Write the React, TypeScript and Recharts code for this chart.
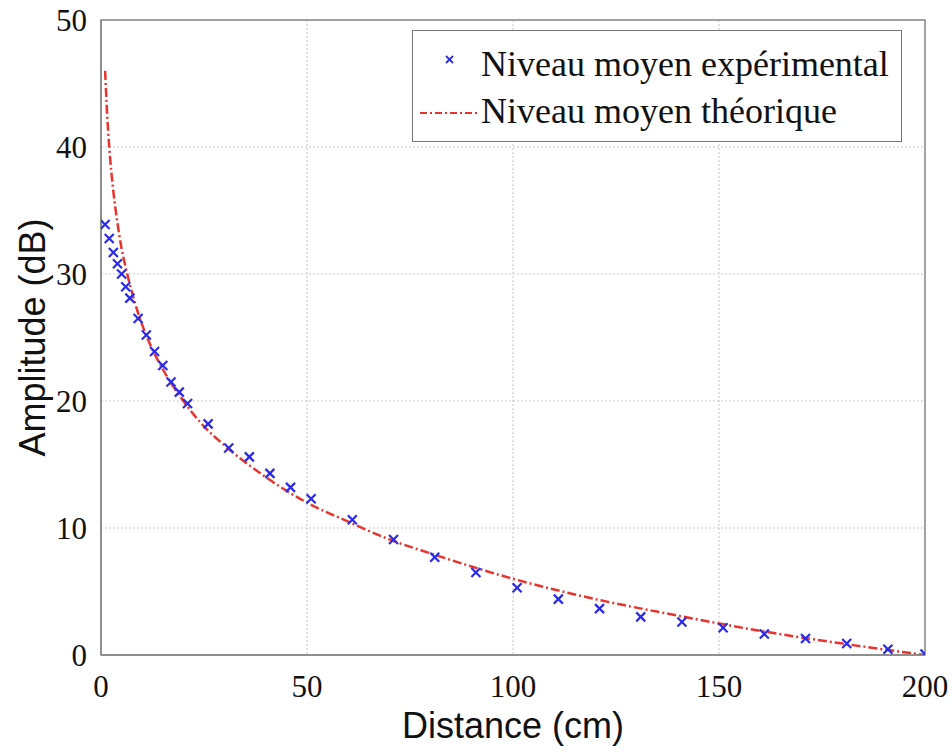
import * as React from 'react';
import {
    ComposedChart, Line, Scatter, XAxis, YAxis, CartesianGrid, Legend, ReferenceArea,
} from 'recharts';

// measured points (cm, dB)
const expDistance = [1, 2, 3, 4, 5, 6, 7, 9, 11, 13, 15, 17, 19, 21, 26, 31, 36, 41, 46, 51,
    61, 71, 81, 91, 101, 111, 121, 131, 141, 151, 161, 171, 181, 191, 200];
const expLevel = [33.9, 32.8, 31.7, 30.8, 30.0, 29.0, 28.1, 26.5, 25.2, 23.9, 22.8, 21.5, 20.7, 19.8,
    18.2, 16.3, 15.6, 14.3, 13.2, 12.3, 10.65, 9.1, 7.7, 6.5, 5.3, 4.4, 3.65, 3.0, 2.6, 2.15, 1.65,
    1.3, 0.9, 0.45, 0.08];

// theoretical curve
const theoDistance = [1, 1.5, 2, 3, 4, 5, 6, 8, 10, 12, 15, 20, 25, 30, 40, 50, 60, 70, 80, 100,
    120, 140, 160, 180, 200];
const theoLevel = [46.0, 42.5, 40.0, 36.5, 34.0, 32.0, 30.5, 28.0, 26.0, 24.4, 22.5, 20.0, 18.0,
    16.5, 14.0, 12.0, 10.5, 9.1, 8.0, 6.0, 4.4, 3.1, 1.9, 0.9, 0.0];

const xTicks = [0, 50, 100, 150, 200];
const yTicks = [0, 10, 20, 30, 40, 50];

const expName = 'Niveau moyen expérimental';
const theoName = 'Niveau moyen théorique';

const BLUE = '#2b2be6';
const RED = '#e8342c';
const SERIF = '"Liberation Serif", "Times New Roman", serif';
const SANS = '"Liberation Sans", Arial, sans-serif';

const expData = expDistance.map((d, i) => ({ x: d, y: expLevel[i] }));
const theoData = theoDistance.map((d, i) => ({ x: d, y: theoLevel[i] }));

const Cross = (props: any) => {
    const { cx, cy } = props;
    if (cx == null || cy == null) return null;
    const s = 4.5;
    return (
        <g stroke={BLUE} strokeWidth={2.2}>
            <line x1={cx - s} y1={cy - s} x2={cx + s} y2={cy + s} />
            <line x1={cx - s} y1={cy + s} x2={cx + s} y2={cy - s} />
        </g>
    );
};

const LegendBox = () => (
    <div style={{
        position: 'absolute', left: 412, top: 30, width: 490, height: 112,
        border: '1.5px solid #777', background: '#fff', boxSizing: 'border-box',
        fontFamily: SERIF, fontSize: 36, color: '#111',
    }}>
        <div style={{ position: 'absolute', left: 68, top: 12, whiteSpace: 'nowrap' }}>{expName}</div>
        <div style={{ position: 'absolute', left: 68, top: 59, whiteSpace: 'nowrap' }}>{theoName}</div>
        <svg style={{ position: 'absolute', left: 0, top: 0 }} width={70} height={110}>
            <g stroke={BLUE} strokeWidth={1.8}>
                <line x1={33} y1={25} x2={40} y2={32} />
                <line x1={33} y1={32} x2={40} y2={25} />
            </g>
            <line x1={7} y1={82} x2={66} y2={82} stroke={RED} strokeWidth={2} strokeDasharray="7 3 2 3" />
        </svg>
    </div>
);

const YTitle = (props: any) => {
    const { viewBox } = props;
    const cx = 32;
    const cy = viewBox.y + viewBox.height / 2;
    return (
        <text x={cx} y={cy} transform={`rotate(-90 ${cx} ${cy})`} textAnchor="middle"
            dominantBaseline="central" fontFamily={SANS} fontSize={36} fill="#111">
            Amplitude (dB)
        </text>
    );
};

const XTitle = (props: any) => {
    const { viewBox } = props;
    return (
        <text x={viewBox.x + viewBox.width / 2} y={viewBox.y + 70} textAnchor="middle"
            dominantBaseline="central" fontFamily={SANS} fontSize={36} fill="#111">
            Distance (cm)
        </text>
    );
};

export default function App() {
    return (
        <div style={{ position: 'absolute', left: 0, top: 0, width: 952, height: 753, background: '#fff' }}>
            <ComposedChart width={952} height={753} margin={{ top: 20, right: 27, left: 0, bottom: 0 }}>
                <CartesianGrid stroke="#c8c8c8" strokeDasharray="2 2" />
                <XAxis type="number" dataKey="x" domain={[0, 200]} ticks={xTicks} height={98}
                    allowDataOverflow stroke="#888" strokeWidth={1.5} tickLine={false} tickMargin={14}
                    tick={{ fontFamily: SERIF, fontSize: 31, fill: '#111' }}
                    label={<XTitle />} />
                <YAxis type="number" dataKey="y" domain={[0, 50]} ticks={yTicks} width={101}
                    allowDataOverflow stroke="#888" strokeWidth={1.5} tickLine={false} tickMargin={8}
                    tick={{ fontFamily: SERIF, fontSize: 31, fill: '#111' }}
                    label={<YTitle />} />
                <ReferenceArea x1={0} x2={200} y1={0} y2={50} fill="none" stroke="#888" strokeWidth={1.5} />
                <Line data={theoData} dataKey="y" name={theoName} type="monotone" stroke={RED}
                    strokeWidth={2.5} strokeDasharray="9 3 2 3" dot={false} isAnimationActive={false} />
                <Scatter data={expData} dataKey="y" name={expName} shape={<Cross />} isAnimationActive={false} />
                <Legend content={() => null} />
            </ComposedChart>
            <LegendBox />
        </div>
    );
}
